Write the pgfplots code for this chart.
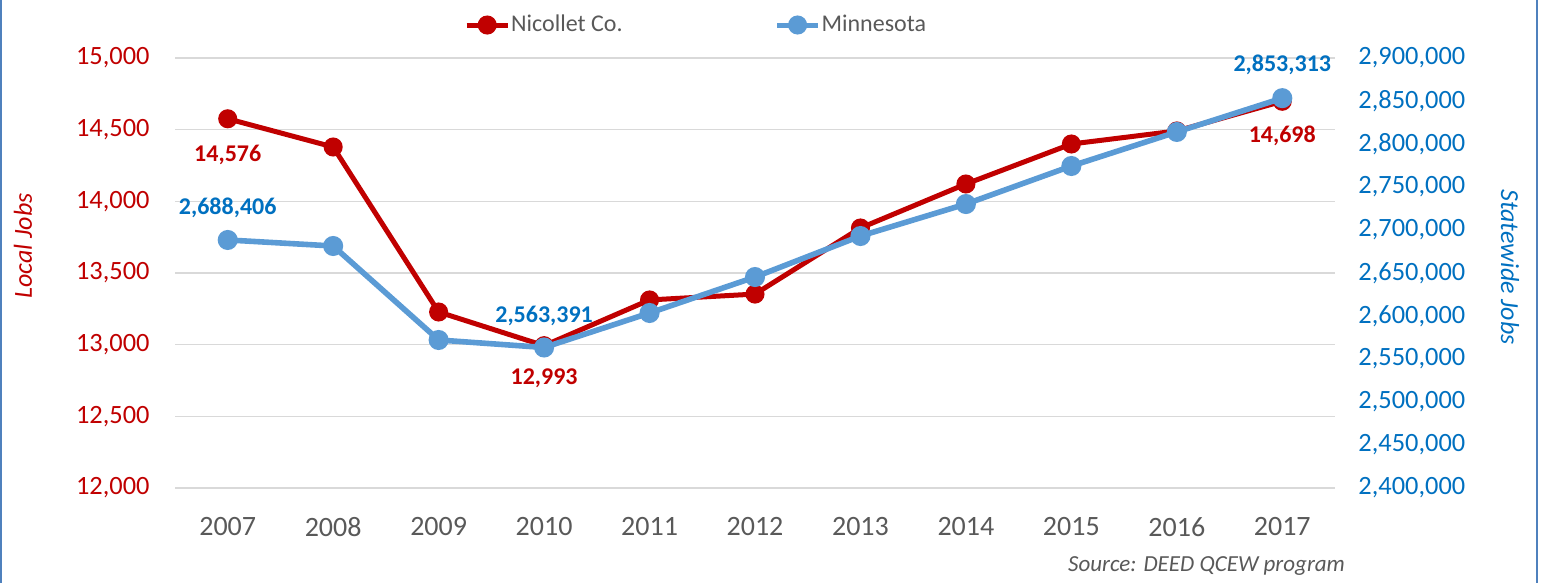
\documentclass[border=0pt]{standalone}
\usepackage{pgfplots}
\pgfplotsset{compat=1.18}
\usepackage{fontspec}
\setmainfont{Carlito}
\definecolor{cred}{HTML}{C00000}
\definecolor{cblue}{HTML}{5B9BD5}
\definecolor{ctblue}{HTML}{0070C0}
\definecolor{cgray}{HTML}{595959}
\definecolor{cgrid}{HTML}{D9D9D9}
\definecolor{cframe}{HTML}{4F81BD}
\begin{document}
\begin{tikzpicture}
\path[use as bounding box] (0,0) rectangle (773pt,291.5pt);
\draw[cframe, line width=1pt] (0.5pt,0) -- (0.5pt,291.5pt);
\draw[cframe, line width=1pt] (768.5pt,0) -- (768.5pt,291.5pt);
\begin{axis}[
  at={(87.5pt,47.5pt)}, anchor=south west,
  scale only axis, width=580pt, height=215pt,
  xmin=-0.5, xmax=10.5, ymin=12000, ymax=15000,
  xtick={0,...,10},
  xticklabels={2007,2008,2009,2010,2011,2012,2013,2014,2015,2016,2017},
  ytick={12000,12500,...,15000},
  ymajorgrids, grid style={cgrid, line width=0.8pt},
  axis line style={draw=none}, major tick length=0pt,
  /pgf/number format/assume math mode=true,
  /pgf/number format/1000 sep={,},
  scaled y ticks=false,
  yticklabel style={font=\fontsize{13.2}{15}\selectfont, text=cred, inner sep=0pt, xshift=-12.5pt},
  xticklabel style={font=\fontsize{14}{16}\selectfont, text=cgray, inner sep=0pt, yshift=-14.5pt},
  clip=false,
  legend columns=2,
  legend style={at={(0.2490,1.0767)}, anchor=west, draw=none, fill=none, inner sep=0pt,
    font=\fontsize{12}{14}\selectfont, text=cgray,
    nodes={inner sep=0.5pt},
    /tikz/every even column/.append style={column sep=75.5pt}},
  legend image code/.code={\draw[mark repeat=2,mark phase=2] plot coordinates {(0cm,0cm) (0.36cm,0cm) (0.72cm,0cm)};},
]
\addplot[cred, line width=2.5pt, mark=*, mark size=3.5pt, mark options={fill=cred, draw=cred}] coordinates {
 (0,14576) (1,14379) (2,13228) (3,12993) (4,13312) (5,13353) (6,13814) (7,14121) (8,14400) (9,14491) (10,14698)};
\addlegendentry{Nicollet Co.}
\addlegendimage{cblue, line width=2.5pt, mark=*, mark size=3.5pt, mark options={fill=cblue, draw=cblue}}
\addlegendentry{Minnesota}
\node[font=\bfseries\fontsize{12}{13}\selectfont, text=cred] at (axis cs:0,14576) [yshift=-18pt] {14,576};
\node[font=\bfseries\fontsize{12}{13}\selectfont, text=cred] at (axis cs:3,12993) [yshift=-16.5pt] {12,993};
\node[font=\bfseries\fontsize{12}{13}\selectfont, text=cred] at (axis cs:10,14698) [yshift=-17.5pt] {14,698};
\end{axis}
\begin{axis}[
  at={(87.5pt,47.5pt)}, anchor=south west,
  scale only axis, width=580pt, height=215pt,
  xmin=-0.5, xmax=10.5, ymin=2400000, ymax=2900000,
  axis y line*=right, hide x axis,
  ytick={2400000,2450000,...,2900000},
  axis line style={draw=none}, major tick length=0pt,
  /pgf/number format/assume math mode=true,
  /pgf/number format/1000 sep={,},
  /pgf/number format/fixed,
  scaled y ticks=false,
  yticklabel style={font=\fontsize{13.2}{15}\selectfont, text=ctblue, inner sep=0pt, xshift=11.5pt},
  clip=false,
]
\addplot[cblue, line width=2.8pt, mark=*, mark size=3.6pt, mark options={fill=cblue, draw=cblue}] coordinates {
 (0,2688406) (1,2681400) (2,2572100) (3,2563391) (4,2603500) (5,2645300) (6,2693000) (7,2730200) (8,2774400) (9,2814000) (10,2853313)};
\node[font=\bfseries\fontsize{12}{13}\selectfont, text=ctblue] at (axis cs:0,2688406) [yshift=16pt] {2,688,406};
\node[font=\bfseries\fontsize{12}{13}\selectfont, text=ctblue] at (axis cs:3,2563391) [yshift=16pt] {2,563,391};
\node[font=\bfseries\fontsize{12}{13}\selectfont, text=ctblue] at (axis cs:10,2853313) [yshift=16.5pt] {2,853,313};
\end{axis}
\node[rotate=90, font=\itshape\fontsize{13}{15}\selectfont, text=cred] at (11.5pt,168.5pt) {Local Jobs};
\node[rotate=-90, font=\itshape\fontsize{13}{15}\selectfont, text=ctblue] at (755pt,158pt) {Statewide Jobs};
\node[anchor=east, font=\itshape\fontsize{11.5}{13}\selectfont, text=cgray] at (676pt,8.5pt) {Source: DEED QCEW program};
\end{tikzpicture}
\end{document}
